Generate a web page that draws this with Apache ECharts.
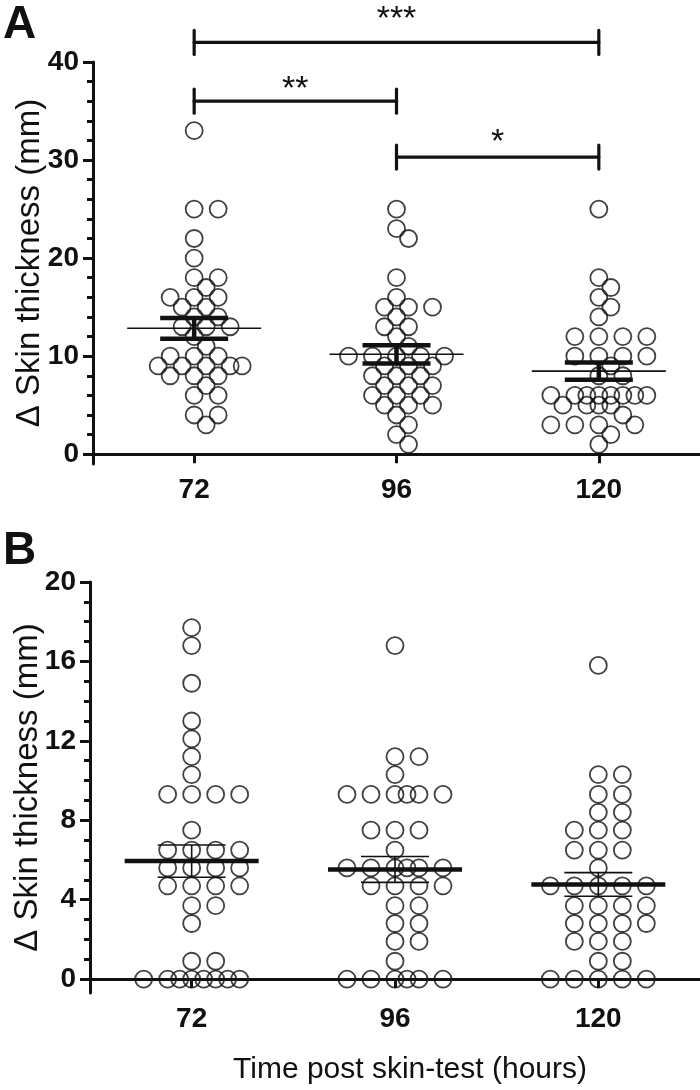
<!DOCTYPE html>
<html><head><meta charset="utf-8">
<script src="https://cdn.jsdelivr.net/npm/echarts@6/dist/echarts.min.js"></script>
<style>html,body{margin:0;padding:0;background:#fff}#c{width:700px;height:1090px}</style>
</head><body><div id="c"></div>
<script>
// ---------- data ----------
const categories = ['72', '96', '120'];
const yTicksA = [0, 10, 20, 30, 40];
const yTicksB = [0, 4, 8, 12, 16, 20];

// panel A: Δ skin thickness (mm) per subject
const panelA_72  = [33,25,25,22,20,18,18,17,16,16,16,15,15,14,14,13,13,13,12,11,10,10,10,9,9,9,9,9,8,8,8,7,6,6,4,4,3];
const panelA_96  = [25,23,22,18,16,15,15,15,14,13,13,12,11,10,10,10,10,10,9,9,9,8,8,8,7,7,7,6,6,6,5,5,5,4,3,2,1];
const panelA_120 = [25,18,17,16,15,14,12,12,12,12,10,10,10,10,9,8,8,6,6,6,6,6,6,6,6,5,5,5,5,4,3,3,3,3,2,1];

// panel B: values as read against the 0–20 axis
const panelB_72  = [17.7,16.8,14.9,13.0,12.1,11.2,10.3,9.3,9.3,9.3,9.3,7.5,6.5,6.5,6.5,6.5,5.6,5.6,5.6,5.6,4.7,4.7,4.7,4.7,3.7,3.7,2.8,0.9,0.9,0,0,0,0,0,0,0,0];
const panelB_96  = [16.8,11.2,11.2,10.3,9.3,9.3,9.3,9.3,9.3,9.3,7.5,7.5,7.5,6.5,5.6,5.6,5.6,5.6,5.6,5.6,4.7,4.7,4.7,4.7,3.7,3.7,2.8,2.8,1.9,1.9,0.9,0,0,0,0,0,0];
const panelB_120 = [15.8,10.3,10.3,9.3,9.3,8.4,8.4,7.5,7.5,7.5,6.5,6.5,6.5,5.6,4.7,4.7,4.7,4.7,4.7,3.7,3.7,3.7,3.7,2.8,2.8,2.8,2.8,1.9,1.9,1.9,0.9,0.9,0,0,0,0,0];

// significance brackets in panel A: from group, to group, bracket height (mm), label height (mm), label
const sigFrom       = [1, 1, 2];
const sigTo         = [3, 2, 3];
const sigLevel      = [42, 36, 30.3];
const sigLabelLevel = [44.8, 37.7, 32.3];
const sigLabels     = ['***', '**', '*'];

const groupsA = [panelA_72, panelA_96, panelA_120];
const groupsB = [panelB_72, panelB_96, panelB_120];

// ---------- helpers ----------
function stats(arr) {
  const n = arr.length;
  const m = arr.reduce((a, b) => a + b, 0) / n;
  const sd = Math.sqrt(arr.reduce((a, b) => a + (b - m) * (b - m), 0) / (n - 1));
  return [m, sd / Math.sqrt(n)];
}
const INK = '#111';
const FONT = '"Liberation Sans", Arial, sans-serif';

function pointsData(groups) {
  const out = [];
  groups.forEach((g, gi) => g.forEach(v => out.push([gi + 1, v])));
  return out;
}
function summaryData(groups) {
  return groups.map((g, gi) => { const s = stats(g); return [gi + 1, s[0], s[1]]; });
}

function meanSemSeries(gridIdx, groups, meanW, semW) {
  return {
    type: 'custom', xAxisIndex: gridIdx, yAxisIndex: gridIdx * 2, z: 5,
    data: summaryData(groups),
    renderItem: function (params, api) {
      const x = api.value(0), m = api.value(1), se = api.value(2);
      const c = api.coord([x, m]);
      const hi = api.coord([x, m + se]);
      const lo = api.coord([x, m - se]);
      const mHalf = 67, sHalf = 34;
      return {
        type: 'group', children: [
          { type: 'line', shape: { x1: c[0] - mHalf, y1: c[1], x2: c[0] + mHalf, y2: c[1] }, style: { stroke: INK, lineWidth: meanW } },
          { type: 'line', shape: { x1: c[0] - sHalf, y1: hi[1], x2: c[0] + sHalf, y2: hi[1] }, style: { stroke: INK, lineWidth: semW } },
          { type: 'line', shape: { x1: c[0] - sHalf, y1: lo[1], x2: c[0] + sHalf, y2: lo[1] }, style: { stroke: INK, lineWidth: semW } },
          { type: 'line', shape: { x1: c[0], y1: hi[1], x2: c[0], y2: lo[1] }, style: { stroke: INK, lineWidth: semW } }
        ]
      };
    }
  };
}

function axesFor(gridIdx, min, max, majors, minorStep, nameGap) {
  const minors = [];
  for (let v = 0; v <= max + 1e-9; v += minorStep) minors.push(+v.toFixed(4));
  return [
    {
      type: 'value', gridIndex: gridIdx, min: min, max: max,
      name: 'Δ Skin thickness (mm)', nameLocation: 'middle', nameGap: nameGap, nameRotate: 90,
      nameMoveOverlap: false,
      nameTextStyle: { fontFamily: FONT, fontSize: 33, color: INK },
      axisLine: { show: true, lineStyle: { color: INK, width: 3 } },
      axisTick: { show: true, length: 10, customValues: majors, lineStyle: { color: INK, width: 3 } },
      axisLabel: { show: true, customValues: majors, margin: 14, fontFamily: FONT, fontWeight: 'bold', fontSize: 28, color: INK },
      splitLine: { show: false }
    },
    {
      type: 'value', gridIndex: gridIdx, min: min, max: max, position: 'left', offset: 0,
      axisLine: { show: false },
      axisTick: { show: true, length: 6, customValues: minors, lineStyle: { color: INK, width: 3 } },
      axisLabel: { show: false },
      splitLine: { show: false }
    }
  ];
}

function xAxisFor(gridIdx, withName) {
  return {
    type: 'value', gridIndex: gridIdx, min: 0.5, max: 3.5,
    name: withName ? 'Time post skin-test (hours)' : '',
    nameLocation: 'middle', nameGap: 62, nameMoveOverlap: false,
    nameTextStyle: { fontFamily: FONT, fontSize: 30, color: INK, padding: [0, 0, 0, 30] },
    axisLine: { show: true, lineStyle: { color: INK, width: 3 } },
    axisTick: { show: true, length: 9, customValues: [1, 2, 3], lineStyle: { color: INK, width: 3 } },
    axisLabel: { show: true, customValues: [1, 2, 3], margin: 12, fontFamily: FONT, fontWeight: 'bold', fontSize: 28, color: INK,
      formatter: v => categories[Math.round(v) - 1] },
    splitLine: { show: false }
  };
}

const chart = echarts.init(document.getElementById('c'), null, { renderer: 'canvas' });

const scatterStyle = { color: 'rgba(0,0,0,0)', borderColor: INK, borderWidth: 1.8 };

const option = {
  animation: false,
  backgroundColor: '#fff',
  grid: [
    { left: 93, right: 0, top: 62, height: 402, containLabel: false, outerBoundsMode: 'none' },
    { left: 90, right: 0, top: 582, height: 411, containLabel: false, outerBoundsMode: 'none' }
  ],
  xAxis: [xAxisFor(0, false), xAxisFor(1, true)],
  yAxis: [].concat(axesFor(0, -1, 40, yTicksA, 2, 47), axesFor(1, -0.7, 20, yTicksB, 1, 46)),
  graphic: [
    { type: 'text', left: 3, top: 2, style: { text: 'A', font: 'bold 46px ' + FONT, fill: INK } },
    { type: 'text', left: 3, top: 528, style: { text: 'B', font: 'bold 46px ' + FONT, fill: INK } }
  ],
  series: [
    { id: 'ptsA', type: 'scatter', xAxisIndex: 0, yAxisIndex: 0, symbol: 'circle', symbolSize: 17, itemStyle: scatterStyle, data: pointsData(groupsA), z: 3 },
    { id: 'ptsB', type: 'scatter', xAxisIndex: 1, yAxisIndex: 2, symbol: 'circle', symbolSize: 17, itemStyle: scatterStyle, data: pointsData(groupsB), z: 3 },
    meanSemSeries(0, groupsA, 1.6, 4.5),
    meanSemSeries(1, groupsB, 4.5, 1.6),
    {
      type: 'custom', xAxisIndex: 0, yAxisIndex: 0, clip: false, z: 6,
      data: sigFrom.map((f, i) => [f, sigTo[i], sigLevel[i], sigLabelLevel[i]]),
      renderItem: function (params, api) {
        const a = api.coord([api.value(0), api.value(2)]);
        const b = api.coord([api.value(1), api.value(2)]);
        const t = api.coord([(api.value(0) + api.value(1)) / 2, api.value(3)]);
        const h = 12;
        const st = { stroke: INK, lineWidth: 3.2, lineCap: 'round' };
        return {
          type: 'group', children: [
            { type: 'line', shape: { x1: a[0], y1: a[1], x2: b[0], y2: b[1] }, style: st },
            { type: 'line', shape: { x1: a[0], y1: a[1] - h, x2: a[0], y2: a[1] + h }, style: st },
            { type: 'line', shape: { x1: b[0], y1: b[1] - h, x2: b[0], y2: b[1] + h }, style: st },
            { type: 'text', x: t[0], y: t[1] + 5,
              style: { text: sigLabels[params.dataIndex], font: '34px ' + FONT, fill: INK, align: 'center', verticalAlign: 'middle' } }
          ]
        };
      }
    }
  ]
};
chart.setOption(option);

// ---------- beeswarm layout through the axis scales ----------
function swarm(groups, gridIdx) {
  const f = { xAxisIndex: gridIdx, yAxisIndex: gridIdx * 2 };
  const p0 = chart.convertToPixel(f, [1, 0]);
  const p1 = chart.convertToPixel(f, [2, 1]);
  const pxX = p1[0] - p0[0];
  const pxY = p0[1] - p1[1];
  const half = 12, D = 15, maxK = 4;
  const order = [0];
  for (let k = 1; k <= maxK; k++) { order.push(k, -k); }
  const out = [];
  groups.forEach((g, gi) => {
    const sorted = g.slice().sort((a, b) => b - a);
    const placed = [];
    sorted.forEach(v => {
      const py = v * pxY;
      let best = null, bestD = -1;
      for (const k of order) {
        const px = k * half;
        let md = Infinity;
        for (const q of placed) {
          const d = Math.hypot(px - q[0], py - q[1]);
          if (d < md) md = d;
        }
        if (md >= D) { best = px; break; }
        if (md > bestD + 1e-6) { bestD = md; best = px; }
      }
      placed.push([best, py]);
      out.push([gi + 1 + best / pxX, v]);
    });
  });
  return out;
}
chart.setOption({ series: [{ id: 'ptsA', data: swarm(groupsA, 0) }, { id: 'ptsB', data: swarm(groupsB, 1) }] });
</script></body></html>
